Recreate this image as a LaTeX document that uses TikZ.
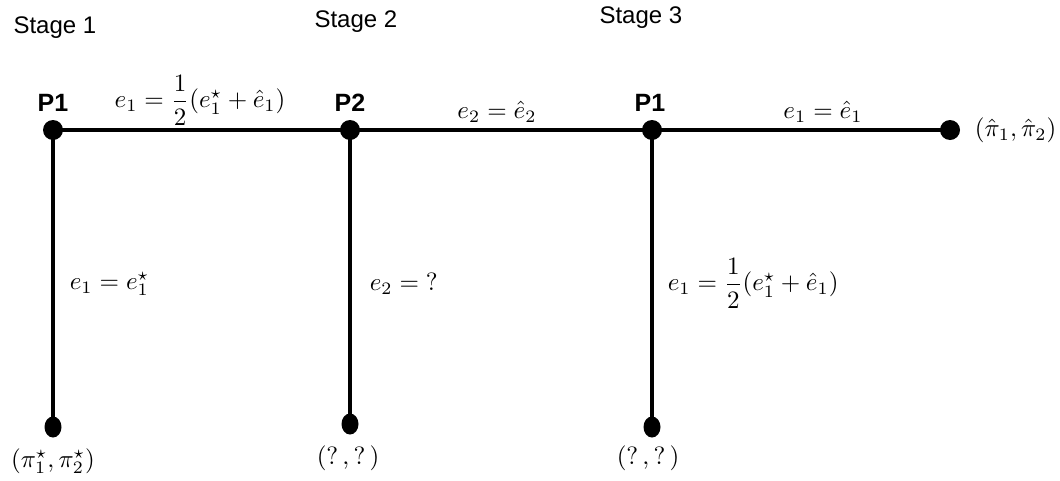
\documentclass[tikz,border=0pt]{standalone}
\usepackage{amsmath}
\usepackage{fontspec}
\setsansfont{Liberation Sans}
\usetikzlibrary{shapes.geometric}
\begin{document}
\begin{tikzpicture}[x=1pt,y=-1pt,
  dot/.style={circle,fill=black,inner sep=0pt,minimum size=20pt},
  leaf/.style={ellipse,fill=black,inner sep=0pt,minimum width=17pt,minimum height=21pt},
  edge/.style={line width=4.5pt},
  stage/.style={font=\sffamily\fontsize{24}{28}\selectfont,anchor=west},
  pl/.style={font=\sffamily\bfseries\fontsize{25}{28}\selectfont},
  lab/.style={scale=2.5}]
\useasboundingbox (0,0) rectangle (1060,480);
\node[stage] (s1) at (10,28) {Stage 1};
\node[stage] (s2) at (311,22) {Stage 2};
\node[stage] (s3) at (596,18) {Stage 3};
\node[dot] (a) at (53,130) {};
\node[dot] (b) at (350,130) {};
\node[dot] (c) at (652,130) {};
\node[dot] (d) at (950,130) {};
\node[leaf] (la) at (53,427) {};
\node[leaf] (lb) at (350,424) {};
\node[leaf] (lc) at (652,427) {};
\draw[edge] (a.center) -- (b.center) -- (c.center) -- (d.center);
\draw[edge] (a.center) -- (la.center);
\draw[edge] (b.center) -- (lb.center);
\draw[edge] (c.center) -- (lc.center);
\node[pl] (p1) at (53,103) {P1};
\node[pl] (p2) at (350,103) {P2};
\node[pl] (p3) at (650,103) {P1};
\node[lab] (t1) at (200,100) {$e_1=\dfrac{1}{2}(e_1^\star+\hat e_1)$};
\node[lab] (t2) at (497,112) {$e_2=\hat e_2$};
\node[lab] (t3) at (823,112) {$e_1=\hat e_1$};
\node[lab,anchor=west] (t4) at (966,130) {$(\hat\pi_1,\hat\pi_2)$};
\node[lab,anchor=west] (v1) at (61,284) {$e_1=e_1^\star$};
\node[lab,anchor=west] (v2) at (361,284) {$e_2={}?$};
\node[lab,anchor=west] (v3) at (659,283) {$e_1=\dfrac{1}{2}(e_1^\star+\hat e_1)$};
\node[lab] (u1) at (53,461) {$(\pi_1^\star,\pi_2^\star)$};
\node[lab] (u2) at (348,458) {$(?\,,?\,)$};
\node[lab] (u3) at (648,458) {$(?\,,?\,)$};
\end{tikzpicture}
\end{document}
